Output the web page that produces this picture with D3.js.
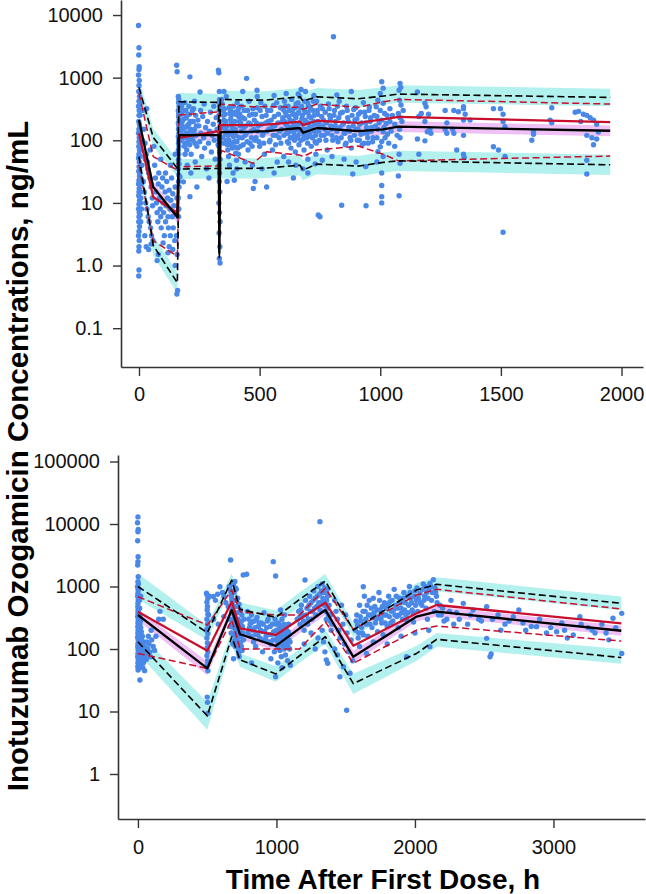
<!DOCTYPE html>
<html><head><meta charset="utf-8">
<script src="https://cdn.jsdelivr.net/npm/d3@7"></script>
<style>body{margin:0;background:#fff}svg{display:block}</style>
</head><body>
<svg id="chart" width="646" height="894"></svg>
<script>
// ---------------- TOP PANEL DATA ----------------
const topTimes      = [0, 59, 159, 166, 330, 333, 337, 473, 529, 667, 680, 737, 908, 1012, 1075, 1953];
const topObsMedian  = [210, 17.9, 5.9, 121, 121, 1.6, 135, 137, 140, 157, 132, 157, 140, 149, 165, 142];
const topObsP95     = [700, 111, 35.6, 412, 402, 2.0, 450, 438, 440, 495, 423, 495, 460, 508, 547, 484];
const topObsP5      = [55, 2.1, 0.53, 34.7, 35.6, 1.3, 35.6, 35.6, 36, 40, 33.4, 41.7, 38.7, 44.4, 47, 40.6];
const topPredMedian = [130, 12.4, 6.9, 109, 140, 12, 175, 175, 178, 198, 175, 205, 190, 216, 237, 195];
const topPredP95    = [560, 55, 33.4, 253, 285, 30, 379, 343, 345, 335, 312, 379, 335, 412, 450, 379];
const topPredP5     = [40, 2.5, 1.41, 37.8, 39, 3, 70, 42.8, 65.5, 58, 55, 70, 81, 60, 47, 56];
const topUpperBandLo  = [510, 80, 26, 300, 292, null, 326, 318, 320, 360, 307, 360, 334, 368, 397, 351];
const topUpperBandHi  = [965, 153, 49, 568, 555, null, 621, 604, 607, 683, 584, 683, 635, 701, 755, 668];
const topLowerBandLo  = [38, 1.45, 0.36, 24, 24.5, null, 24.5, 24.5, 25, 27.5, 23, 28.8, 26.7, 30.6, 32.4, 28];
const topLowerBandHi  = [80, 3.05, 0.77, 50, 51.6, null, 51.6, 51.6, 52, 58, 48.4, 60.5, 56, 64.4, 68, 59];
const topMedBandLo    = [172, 14.7, 4.8, 99, 99, null, 111, 112, 115, 129, 108, 129, 115, 122, 135, 116];
const topMedBandHi    = [256, 21.8, 7.2, 148, 148, null, 165, 167, 171, 192, 161, 192, 171, 182, 201, 173];
const topObserved = [
[-2,6800],[0,3000],[-1,2300],[1,1500],[0,1350],[-2,1100],[1,900],[0,750],[-1,600],[2,500],[0,420],[-2,350],[1,300],[0,250],[-1,200],[2,180],[0,150],[-2,130],[1,110],[0,95],[-1,80],[2,70],[0,60],[-2,52],[1,45],[0,38],[-1,32],[2,27],[0,23],[-2,20],[1,17],[0,15],[-1,13],[2,11],[0,9.5],[-2,8],[1,7],[0,6],[-1,5],[2,4.2],[0,3.5],[-2,3],[1,2.5],[0,2],[-1,1.7],[0,0.85],[-1,0.68],
[4,400],[5,250],[3,160],[6,120],[4,90],[8,70],[5,55],[7,40],[3,30],[6,25],[9,20],[4,15],[8,12],[6,10],[10,8],[5,6.5],[7,5],
[15,300],[20,150],[25,90],[30,60],[35,45],[40,30],[45,25],[50,18],[55,12],[12,40],[18,22],[22,15],[28,10],[33,8],[38,6],[42,5],[48,4],[52,3],[58,2.5],[24,3],[30,2],[40,1.8],[50,2.2],[14,100],[26,50],[36,35],[46,70],[56,9],[32,320],
[62,80],[65,40],[68,25],[70,15],[72,10],[75,7],[78,5],[80,20],[82,30],[85,12],[88,8],[90,6],[92,4],[95,18],[98,25],[100,10],[102,7],[105,3],[108,15],[110,5],[112,9],[115,22],[118,12],[120,6],[122,4],[125,16],[128,8],[130,3],[132,11],[135,25],[138,6],[140,14],[142,4],[145,9],[148,2.5],[150,18],[152,7],[155,3],[157,12],[158,1.5],[160,0.4],[157,0.35],[150,1.0],[140,1.8],[120,1.6],[100,2.3],[80,1.5],[90,50],[110,30],[130,40],[150,60],[75,1.2],[125,2],
[156,1580],[158,1240],[163,500],[165,450],[164,400],[166,350],[163,300],[165,270],[164,240],[166,210],[163,190],[165,170],[164,150],[166,130],[163,115],[165,100],[164,90],[166,80],[163,70],[165,60],[164,50],[166,42],[163,35],[165,28],[164,22],[166,18],[163,12],[165,8],[164,6],
[168,250],[170,180],[172,130],[174,100],[176,350],[178,280],[181,210],[183,160],[186,110],[189,80],[191,60],[194,300],[196,230],[199,170],[201,130],[204,95],[207,350],[209,260],[212,200],[214,150],[218,110],[222,300],[225,200],[228,130],[232,90],[235,250],[238,170],
[172,380],[175,260],[178,190],[180,150],[182,120],[185,300],[188,220],[190,90],[192,160],[195,130],[198,70],[200,250],[203,110],[206,180],[210,85],[213,140],[216,60],[220,200],[223,100],[226,320],[230,150],[233,45],[236,120],[240,80],[244,210],[248,170],[252,95],[256,130],[260,55],[264,240],[268,110],[272,75],[276,160],[280,35],[284,200],[288,90],[292,140],[296,280],[300,65],[304,120],[308,180],[312,100],[316,50],[320,230],[324,150],[328,85],[211,1030],[211,12.6],[170,26],[184,21.7],[200,40],[215,30],[240,18],[290,25],[255,300],[310,350],[190,400],[230,420],[270,380],[253,590],
[329,1320],[331,1200],[333,600],[334,450],[332,400],[335,350],[333,300],[331,250],[334,200],[336,170],[332,150],[334,130],[333,110],[335,95],[331,80],[334,65],[336,50],[332,40],[334,30],[333,22],[335,15],[331,10],[334,7],[336,5],[332,3.3],[335,2],[333,1.3],[336,1.1],
[342,450],[345,380],[348,300],[350,250],[352,210],[355,180],[358,150],[360,125],[363,100],[366,85],[368,70],[371,55],[374,330],[377,270],[380,220],[383,190],[386,160],[389,140],[392,115],[395,95],[398,78],[401,62],[404,48],[407,400],[410,300],[413,240],[416,200],[419,170],[375,40],[390,30],[405,35],[365,22],[385,130],[400,260],[415,110],[420,80],[352,600],[362,500],[395,23],
[344,160],[347,110],[351,90],[354,320],[357,260],[361,200],[364,170],[367,140],[370,120],[373,100],[376,85],[379,300],[382,250],[384,90],[387,75],[391,350],[394,280],[397,200],[399,150],[402,120],[406,95],[409,75],[412,60],[414,330],[418,260],[422,190],[424,140],[428,110],[432,85],[436,300],[438,220],[442,170],[445,130],[448,95],[452,70],[456,420],[458,250],[462,180],[466,110],[469,80],[472,320],[476,150],[480,100],[483,260],[487,190],[492,140],[497,95],[502,300],[507,180],[512,120],[517,90],[522,350],[527,250],[531,140],[536,200],[541,95],[546,300],[551,160],[556,120],[561,240],[566,85],[571,400],[576,190],[581,110],[586,330],[591,150],[596,230],
[425,350],[430,230],[435,160],[440,120],[446,975],[450,300],[455,190],[460,90],[465,140],[470,260],[474,17],[478,210],[481,22],[485,110],[489,630],[490,330],[495,170],[500,80],[505,400],[510,240],[515,130],[520,60],[525,190],[529,18],[533,300],[538,150],[543,100],[548,210],[553,70],[558,360],[563,170],[568,120],[573,45],[578,260],[583,140],[588,90],[593,200],[598,310],[440,45],[470,40],[510,35],[560,30],[600,55],[430,600],[490,500],[560,520],
[603,420],[606,280],[609,180],[612,130],[615,95],[618,350],[621,240],[624,160],[627,110],[630,75],[633,450],[636,300],[639,200],[642,140],[645,100],[648,65],[651,380],[654,260],[657,180],[660,120],[663,85],[666,500],[669,330],[672,650],[675,220],[678,150],[681,105],[684,70],[687,420],[690,280],[693,190],[696,130],[699,90],[702,360],[705,240],[708,165],[711,115],[714,80],[718,880],[721,300],[724,200],[727,140],[730,95],[733,60],[736,420],[740,260],[743,6.4],[746,180],[750,6],[755,120],[760,320],[765,210],[770,150],[775,100],[780,70],[620,45],[650,40],[680,35],[700,50],[730,42],[760,48],[640,25],[700,30],[660,550],[690,600],[725,520],[610,560],
[601,120],[604,200],[607,350],[611,250],[614,170],[617,130],[620,90],[623,300],[626,210],[629,140],[632,110],[635,200],[638,260],[641,170],[644,120],[647,330],[650,230],[653,150],[656,110],[659,400],[662,280],[665,190],[668,140],[671,100],[674,350],[677,250],[679,180],[683,120],[686,300],[689,210],[692,150],[695,110],[698,400],[701,280],[704,190],[707,130],[710,330],[713,230],[716,160],[719,110],[722,420],[726,250],[729,180],[732,120],[735,90],[739,300],[742,200],[745,140],[748,100],[752,350],[757,240],[762,170],[767,120],[772,280],[777,190],[782,130],
[785,380],[790,250],[795,170],[800,120],[806,4500],[810,300],[815,200],[820,140],[825,95],[830,420],[835,270],[840,9.2],[845,180],[850,130],[855,85],[860,350],[865,230],[870,160],[875,110],[880,75],[886,29],[890,310],[895,210],[900,150],[905,100],[910,260],[915,180],[920,125],[925,85],[930,400],[935,280],[940,190],[945,130],[950,90],[955,340],[960,230],[965,160],[970,110],[800,55],[850,50],[900,45],[940,38],[880,600],[820,530],[941,9],
[788,320],[793,220],[798,150],[803,100],[808,250],[813,170],[818,110],[823,350],[828,230],[833,160],[838,110],[843,280],[848,190],[853,130],[858,90],[863,300],[868,200],[873,140],[878,100],[883,250],[888,170],[893,120],[898,330],[903,220],[908,150],[913,100],[918,280],[923,190],[928,130],[933,90],[938,240],[943,160],[948,110],[953,300],[958,200],[963,140],[968,95],[975,250],[980,170],[995,190],[1015,160],[1020,110],[1028,250],[1035,90],[1045,140],[1050,250],[1060,180],[1070,120],[1090,200],[1095,300],[1060,80],
[1006,860],[1012,680],[1000,561],[990,438],[1012,390],[983,343],[1000,300],[1018,268],[986,240],[1006,210],[1024,185],[990,150],[1012,137],[1030,125],[986,110],[1006,96],[1000,79],[990,66],[1012,55],[1006,30],[1006,19],[1006,12.6],[1006,10],[986,45],[1040,200],[1040,320],
[1082,811],[1085,700],[1078,630],[1080,438],[1086,365],[1075,268],[1082,230],[1080,150],[1082,110],[1078,60],[1082,43],[1075,27],[1078,13],
[1154,590],[1185,390],[1190,343],[1170,268],[1200,260],[1160,240],[1185,200],[1206,150],[1195,137],[1210,129],[1154,105],[1185,98],[1160,60],
[1269,300],[1305,300],[1324,285],[1345,343],[1345,320],[1352,260],[1345,210],[1372,210],[1276,190],[1300,150],[1276,129],[1305,129],[1345,120],[1317,70],[1345,60],[1348,53],[1269,150],
[1469,320],[1498,320],[1509,260],[1509,200],[1517,165],[1469,79],[1490,70],[1517,55],[1509,3.4],
[1635,137],[1635,125],[1628,100],[1711,330],[1704,210],[1711,190],
[1808,280],[1822,290],[1831,200],[1842,260],[1856,250],[1870,230],[1884,210],[1897,180],[1856,120],[1877,110],[1897,105],[1884,85],[1904,135],[1856,48],[1856,29]
];
const topYTicks  = [10000, 1000, 100, 10, 1, 0.1];
const topYLabels = ["10000", "1000", "100", "10", "1.0", "0.1"];
const topXTicks  = [0, 500, 1000, 1500, 2000];

// ---------------- BOTTOM PANEL DATA ----------------
const botTimes      = [0, 501, 677, 737, 995, 1167, 1353, 1555, 2012, 2157, 3490];
const botObsMedian  = [350, 49, 421, 172, 112, 214, 421, 75, 330, 395, 196];
const botObsP95     = [1000, 182, 1270, 431, 321, 620, 1225, 201, 880, 1083, 538];
const botObsP5      = [130, 8.5, 157, 67, 40, 78, 157, 28, 85, 143, 73];
const botPredMedian = [395, 94, 571, 214, 168, 300, 551, 113, 373, 506, 258];
const botPredP95    = [687, 242, 880, 395, 350, 350, 935, 206, 731, 902, 437];
const botPredP5     = [85, 49, 291, 100, 100, 100, 273, 59, 201, 233, 134];
const botUpperBandLo = [620, 139, 990, 335, 250, 480, 950, 155, 680, 840, 418];
const botUpperBandHi = [1620, 240, 1630, 555, 413, 800, 1580, 260, 1140, 1400, 695];
const botLowerBandLo = [85, 5.1, 120, 52, 30, 60, 120, 19, 65, 109, 58];
const botLowerBandHi = [190, 14, 205, 85, 53, 100, 205, 40, 112, 180, 100];
const botMedBandLo   = [285, 38, 350, 143, 93, 178, 350, 60, 275, 330, 163];
const botMedBandHi   = [430, 63, 505, 206, 135, 257, 505, 94, 396, 475, 235];
const botObserved = [
[0,13000],[-3,10500],[2,8200],[0,7500],[-2,5400],[1,3000],[0,2500],[-2,2200],[2,1430],[0,1190],[-3,993],[1,880],[0,778],[-2,700],[2,608],[0,540],[-1,476],[1,420],[0,372],[-2,330],[2,291],[0,260],[-1,228],[1,200],[0,178],[-2,155],[2,139],[0,122],[-1,109],[1,97],[0,85],[-2,75],[2,67],[0,60],[-1,52],[1,46],
[10,600],[12,450],[15,350],[18,280],[20,220],[22,180],[25,150],[28,120],[30,100],[33,85],[36,70],[40,60],[8,320],[14,250],[24,190],[32,160],[38,130],[45,110],[50,95],[55,80],[60,68],[65,130],[70,100],[75,160],[80,120],[85,90],[90,75],[95,200],[100,140],[110,110],[120,95],[130,160],[150,300],[159,400],[183,300],[14,32],[5,55],[35,50],[48,45],[5,900],[20,700],[3,1100],
[3,400],[6,300],[9,230],[4,180],[7,140],[11,120],[13,95],[16,80],[19,65],[2,150],[6,110],[9,90],[12,75],[17,140],[21,110],[27,90],[31,75],[4,60],[8,50],[15,55],
[495,780],[500,730],[505,640],[498,560],[502,480],[500,420],[505,360],[498,300],[502,250],[500,210],[505,175],[498,150],[502,125],[500,105],[505,90],[498,78],[502,65],[500,55],[505,45],[500,17],[502,14],[505,9.4],[495,200],[510,350],[515,700],
[544,690],[560,600],[575,750],[592,990],[610,800],[621,700],[635,550],[652,480],[545,300],[580,250],[620,330],
[660,1000],[665,900],[669,2650],[672,800],[675,700],[678,620],[680,560],[683,500],[686,450],[689,400],[692,360],[695,320],[698,290],[701,260],[704,230],[707,200],[710,180],[713,160],[716,140],[719,125],[722,110],[725,95],[728,85],[731,75],[690,1100],[700,1200],[710,900],[720,650],[730,520],[740,420],[750,350],[760,1530],[785,1570],[745,270],[755,230],[765,300],[680,250],[700,140],[720,190],[740,160],[690,70],
[662,300],[667,230],[673,180],[676,400],[684,280],[688,220],[693,170],[697,130],[702,110],[706,600],[712,480],[717,380],[723,300],[727,240],[733,200],[737,170],[742,130],[747,110],[752,95],[758,180],[763,140],[694,800],[705,950],[685,120],
[790,400],[800,300],[810,250],[820,350],[830,200],[840,280],[850,170],[860,320],[870,230],[880,150],[890,260],[900,190],[910,380],[920,140],[930,220],[940,300],[950,170],[960,120],[970,250],[977,2500],[980,190],[985,90],[994,1470],[994,36],[1000,200],[1005,140],[1010,110],[1015,260],[1020,180],[1025,95],[1030,150],[1035,75],[1040,300],[1045,130],[1050,210],[1055,100],[1060,160],[1065,80],[1070,240],[1075,120],[1080,65],[1085,190],[1090,140],[1095,100],[1100,55],[1010,60],[1040,50],[960,70],[900,90],[850,110],[820,60],[1030,420],[1060,350],
[795,180],[805,220],[815,160],[825,270],[835,130],[845,220],[855,300],[865,170],[875,260],[885,200],[895,140],[905,250],[915,190],[925,160],[935,280],[945,130],[955,230],[965,170],[975,140],[990,300],[998,250],[1003,160],[1008,130],[1013,200],[1018,120],[1023,230],[1028,170],[1033,120],[1038,200],[1043,160],[1048,110],[1053,250],[1058,190],[1063,130],[1068,170],[1073,200],[1078,150],[1083,110],[1088,250],[1093,170],[1098,130],
[1150,300],[1160,400],[1170,250],[1180,500],[1190,350],[1200,200],[1206,1270],[1210,600],[1220,450],[1230,300],[1240,700],[1250,550],[1260,400],[1270,850],[1280,650],[1290,480],[1300,1000],[1310,750],[1314,10900],[1320,550],[1330,1100],[1340,800],[1350,600],[1355,400],[1360,300],[1365,900],[1370,700],[1380,500],[1390,350],[1400,250],[1350,90],[1360,67],[1370,59],[1330,200],[1300,150],[1250,180],[1200,120],[1280,100],[1340,130],
[1165,320],[1175,420],[1195,280],[1215,350],[1225,250],[1235,500],[1245,400],[1255,300],[1265,600],[1275,450],[1285,350],[1295,700],[1305,550],[1315,420],[1325,850],[1335,650],[1345,500],[1350,950],[1358,800],[1362,600],[1368,450],[1375,350],[1385,280],[1395,200],
[1420,600],[1430,400],[1440,300],[1450,200],[1458,36],[1460,150],[1470,500],[1480,250],[1483,52],[1490,120],[1500,350],[1507,10.5],[1510,180],[1520,90],[1531,41],[1540,140],[1550,65],[1420,100],[1440,80],
[1570,200],[1580,350],[1590,150],[1600,500],[1610,280],[1620,180],[1627,993],[1635,700],[1640,400],[1650,250],[1660,160],[1670,600],[1680,350],[1690,220],[1699,647],[1710,480],[1720,300],[1730,190],[1740,800],[1750,420],[1760,260],[1770,170],[1780,550],[1790,350],[1800,230],[1810,700],[1820,571],[1830,400],[1840,280],[1850,900],[1860,500],[1870,330],[1880,220],[1890,650],[1900,450],[1910,300],[1920,800],[1930,550],[1940,291],[1940,75],[1950,380],[1960,1000],[1970,650],[1980,420],[1990,270],[2000,850],[2010,600],[2020,400],[2036,778],[2050,500],[2060,1100],[2070,700],[2080,450],[2090,300],[2100,900],[2108,1120],[2108,109],[2120,600],[2133,1280],[2140,400],[2150,800],[2160,550],[2170,350],[1627,168],[1650,85],[1700,130],[1800,120],[1900,160],[2000,180],[2100,200],[1600,110],
[1575,280],[1585,240],[1595,180],[1605,330],[1615,220],[1625,400],[1645,300],[1655,500],[1665,350],[1675,250],[1685,450],[1695,320],[1705,380],[1715,260],[1725,420],[1735,330],[1745,600],[1755,300],[1765,480],[1775,350],[1785,260],[1795,450],[1805,500],[1815,330],[1825,260],[1835,600],[1845,420],[1855,350],[1865,700],[1875,450],[1885,350],[1895,550],[1905,380],[1915,650],[1925,420],[1935,350],[1945,700],[1955,500],[1965,800],[1975,550],[1985,380],[1995,700],[2005,500],[2015,950],[2025,650],[2040,550],[2055,900],[2065,600],[2075,1000],[2085,800],[2095,650],[2115,1000],[2125,800],[2145,950],[2155,700],
[2200,450],[2230,300],[2260,600],[2300,380],[2349,538],[2380,250],[2420,420],[2460,300],[2518,476],[2518,148],[2542,75],[2550,83],[2600,350],[2650,250],[2710,329],[2750,420],[2800,200],[2878,228],[2900,300],[2950,180],[3023,189],[3060,260],[3100,150],[3143,168],[3191,329],[3250,220],[3300,180],[3350,250],[3430,310],[3493,372],[3493,85],[3400,140],
[2180,500],[2190,350],[2210,280],[2250,400],[2280,250],[2320,300],[2400,350],[2480,280],[2560,300],[2620,200],[2680,280],[2780,260],[2840,230],[2980,220],[3080,200],[3200,250],[3280,200],[3380,180],[3450,220]
];
const botYTicks  = [100000, 10000, 1000, 100, 10, 1];
const botYLabels = ["100000", "10000", "1000", "100", "10", "1"];
const botXTicks  = [0, 1000, 2000, 3000];

// ---------------- DRAWING ----------------
const FONT = "'Liberation Sans', Arial, Helvetica, sans-serif";
const COLORS = { point: "#4a88e8", cyan: "#b3f1ef", pink: "#eec0f5", black: "#000000", red: "#c8102e", axis: "#333333" };
const svg = d3.select("#chart");

function drawPanel(cfg) {
  const g = svg.append("g");
  const x = d3.scaleLinear().domain(cfg.xDomain).range(cfg.xRange);
  const y = d3.scaleLog().domain(cfg.yDomain).range(cfg.yRange);
  const T = cfg.times;

  const band = (lo, hi, color) => {
    const rows = T.map((t, i) => ({ t, lo: lo[i], hi: hi[i] }));
    g.append("path").datum(rows)
      .attr("fill", color).attr("stroke", "none")
      .attr("d", d3.area().defined(d => d.lo != null)
        .x(d => x(d.t)).y0(d => y(d.lo)).y1(d => y(d.hi)));
  };
  band(cfg.upperLo, cfg.upperHi, COLORS.cyan);
  band(cfg.lowerLo, cfg.lowerHi, COLORS.cyan);
  band(cfg.medLo, cfg.medHi, COLORS.pink);

  g.append("g").selectAll("circle").data(cfg.points).join("circle")
    .attr("cx", d => x(d[0])).attr("cy", d => y(d[1])).attr("r", 2.7)
    .attr("fill", COLORS.point);

  const line = (vals, color, width, dash) => {
    const rows = T.map((t, i) => ({ t, v: vals[i] }));
    g.append("path").datum(rows)
      .attr("fill", "none").attr("stroke", color).attr("stroke-width", width)
      .attr("stroke-dasharray", dash || null).attr("stroke-linejoin", "round")
      .attr("d", d3.line().x(d => x(d.t)).y(d => y(d.v)));
  };
  line(cfg.predP95, COLORS.red, 1.5, "7,3.5");
  line(cfg.predP5, COLORS.red, 1.5, "7,3.5");
  line(cfg.obsP95, COLORS.black, 1.6, "7,3.5");
  line(cfg.obsP5, COLORS.black, 1.6, "7,3.5");
  line(cfg.predMedian, COLORS.red, 2.3);
  line(cfg.obsMedian, COLORS.black, 2.3);

  const ya = g.append("g").attr("transform", `translate(${cfg.xRange[0]},0)`)
    .call(d3.axisLeft(y).tickValues(cfg.yTicks).tickFormat((d, i) => cfg.yLabels[i])
      .tickSize(8).tickSizeOuter(0).tickPadding(10));
  const xa = g.append("g").attr("transform", `translate(0,${cfg.yRange[0]})`)
    .call(d3.axisBottom(x).tickValues(cfg.xTicks).tickFormat(d3.format("d"))
      .tickSize(9).tickSizeOuter(0).tickPadding(cfg.xPad));
  [ya, xa].forEach(a => {
    a.select(".domain").attr("stroke", COLORS.axis).attr("stroke-width", 1.6);
    a.selectAll(".tick line").attr("stroke", COLORS.axis).attr("stroke-width", 1.4);
    a.selectAll("text").attr("font-family", FONT).attr("font-size", 20).attr("fill", "#111");
  });
}

drawPanel({
  xDomain: [-74.6, 2089], xRange: [121, 643],
  yDomain: [Math.pow(10, -1.62), Math.pow(10, 4.24)], yRange: [367, 0],
  times: topTimes, obsMedian: topObsMedian, obsP95: topObsP95, obsP5: topObsP5,
  predMedian: topPredMedian, predP95: topPredP95, predP5: topPredP5,
  upperLo: topUpperBandLo, upperHi: topUpperBandHi, lowerLo: topLowerBandLo, lowerHi: topLowerBandHi,
  medLo: topMedBandLo, medHi: topMedBandHi, points: topObserved,
  yTicks: topYTicks, yLabels: topYLabels, xTicks: topXTicks, xPad: 11
});
drawPanel({
  xDomain: [-144, 3661], xRange: [118, 645],
  yDomain: [Math.pow(10, -0.72), Math.pow(10, 5.104)], yRange: [819, 455],
  times: botTimes, obsMedian: botObsMedian, obsP95: botObsP95, obsP5: botObsP5,
  predMedian: botPredMedian, predP95: botPredP95, predP5: botPredP5,
  upperLo: botUpperBandLo, upperHi: botUpperBandHi, lowerLo: botLowerBandLo, lowerHi: botLowerBandHi,
  medLo: botMedBandLo, medHi: botMedBandHi, points: botObserved,
  yTicks: botYTicks, yLabels: botYLabels, xTicks: botXTicks, xPad: 12
});

svg.append("text").attr("x", 383).attr("y", 889).attr("text-anchor", "middle")
  .attr("font-family", FONT).attr("font-weight", "bold").attr("font-size", 28).attr("fill", "#000")
  .text("Time After First Dose, h");
svg.append("text").attr("transform", "translate(28,456) rotate(-90)").attr("text-anchor", "middle")
  .attr("font-family", FONT).attr("font-weight", "bold").attr("font-size", 29.5).attr("fill", "#000")
  .text("Inotuzumab Ozogamicin Concentrations, ng/mL");
</script>
</body></html>
